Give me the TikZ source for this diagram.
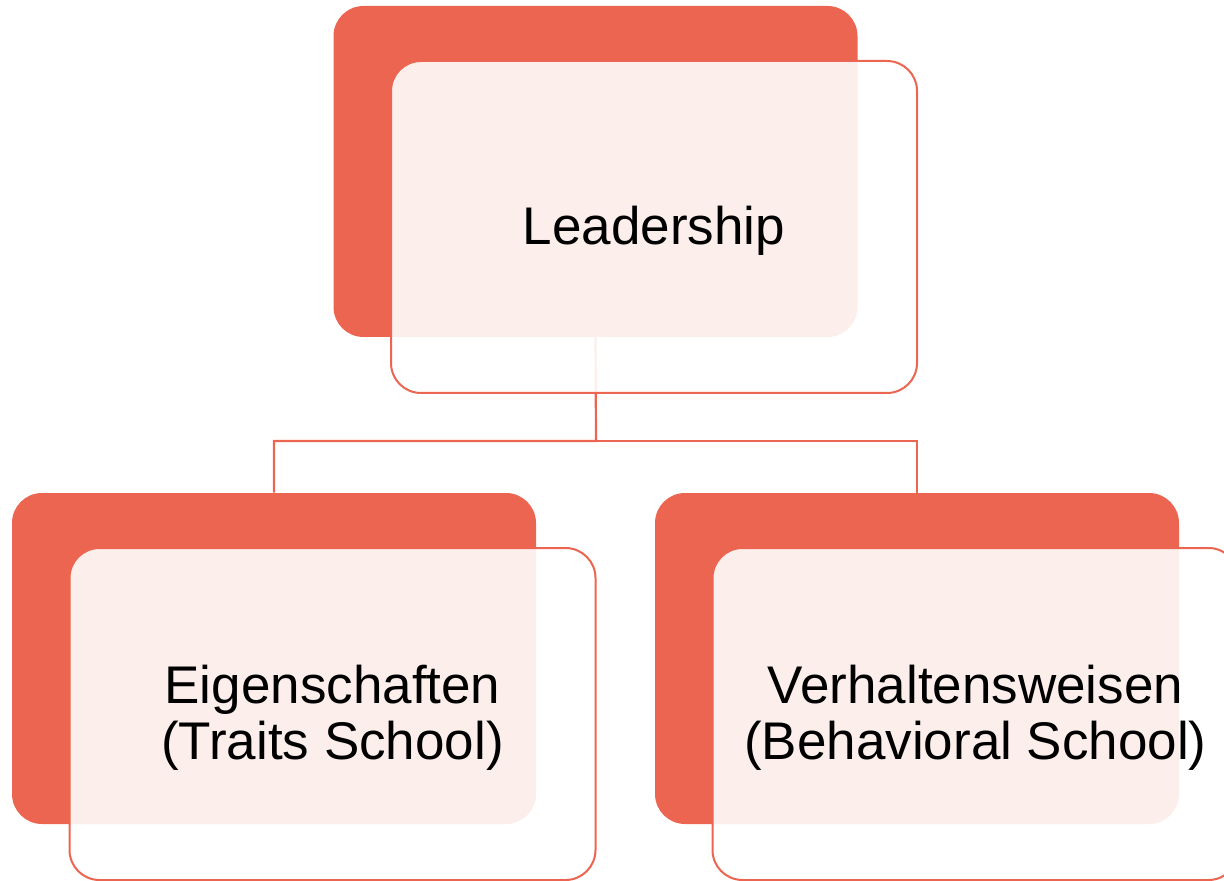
\documentclass[tikz,border=0pt]{standalone}
\usepackage{fontspec}
\setmainfont{Liberation Sans}
\definecolor{leadred}{RGB}{236,101,80}
\begin{document}
\begin{tikzpicture}[x=0.5pt, y=-0.5pt,
    back/.style={rectangle, rounded corners=15pt, fill=leadred, inner sep=0pt, minimum width=262pt, minimum height=165.5pt},
    front/.style={rectangle, rounded corners=15pt, draw=leadred, line width=1pt, fill=white, fill opacity=0.89, text opacity=1, inner sep=0pt, minimum width=263pt, minimum height=166pt, text depth=1.4pt, align=center, font=\fontsize{26.5}{28}\selectfont},
    link/.style={draw=leadred, line width=1.1pt}]
    \useasboundingbox (0,0) rectangle (1224,881);
    \node[back] (leadback) at (595.5,171.5) {};
    \node[back] (traitsback) at (274,658.5) {};
    \node[back] (behavback) at (917,658.5) {};

    \coordinate (fork) at (596,441);
    \draw[link] (leadback.south) -- (fork) -| (traitsback.north);
    \draw[link] (fork) -| (behavback.north);

    \node[front] (lead) at ([shift={(58.5,55.5)}]leadback.center) {Leadership};
    \node[front] (traits) at ([shift={(58.5,55.5)}]traitsback.center) {Eigenschaften\\(Traits School)};
    \node[front] (behav) at ([shift={(58.5,55.5)}]behavback.center) {Verhaltensweisen\\(Behavioral School)};
\end{tikzpicture}
\end{document}
